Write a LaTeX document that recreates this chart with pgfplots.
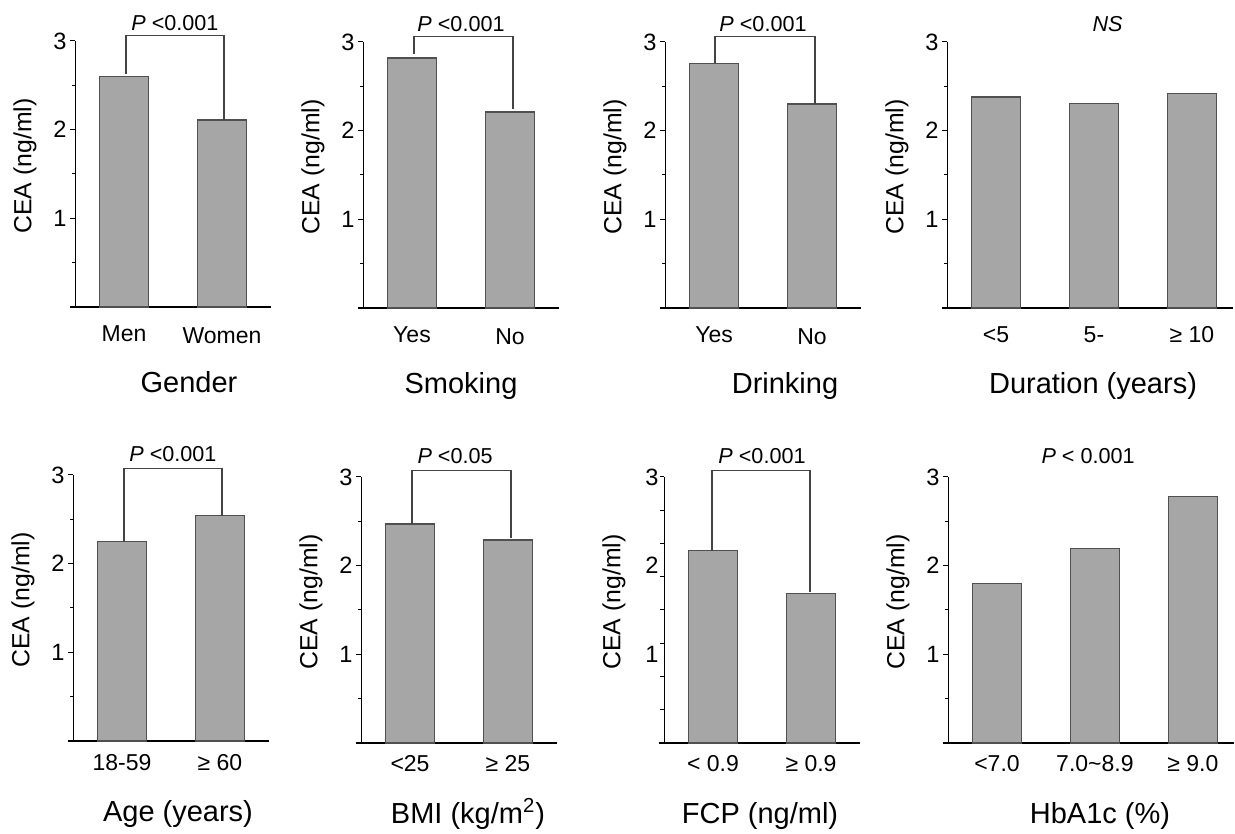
\documentclass[border=0pt]{standalone}
\usepackage{fontspec}
\setmainfont{Liberation Sans}
\usepackage{pgfplots}
\pgfplotsset{compat=1.18}
\definecolor{barfill}{HTML}{A6A6A6}
\definecolor{baredge}{HTML}{505050}
\definecolor{brk}{HTML}{444444}

\pgfplotsset{
  panel/.style={
    scale only axis, width=98pt, height=133pt,
    xmin=-0.5, xmax=1.5, ymin=0, ymax=3,
    axis x line*=bottom, axis y line*=left,
    x axis line style={line width=1.1pt, -, shorten <=-2.5pt},
    y axis line style={line width=0.5pt, -},
    tick align=outside, major tick length=2.5pt, minor tick length=1.5pt,
    every tick/.style={black, line width=0.5pt},
    xtick={0,1}, xtick style={draw=none},
    /pgf/number format/assume math mode=true,
    yticklabel style={font=\fontsize{11.8}{13}\selectfont, inner sep=1.5pt},
    xticklabel style={font=\fontsize{11.5}{13}\selectfont, anchor=base},
    every axis y label/.style={at={(axis description cs:0,0.53)}, xshift=-25pt, rotate=90, anchor=center, font=\fontsize{12.4}{14}\selectfont},
    every axis x label/.style={at={(axis description cs:0.5,0)}, anchor=base, font=\fontsize{14.5}{16}\selectfont},
    ylabel={CEA (ng/ml)},
    clip=false,
    ybar, bar width=0.5,
  },
  stdy/.style={ytick={1,2,3}, minor ytick={0.5,1.5,2.5}},
  three/.style={width=143pt, xmax=2.42, xtick={0,1,2}},
  row1/.style={xticklabel style={yshift=-15pt}, xlabel style={yshift=-43pt}},
  row2/.style={xticklabel style={yshift=-12pt}, xlabel style={yshift=-40pt}},
  bars/.style={fill=barfill, draw=baredge, line width=0.6pt},
}
\tikzset{
  brack/.style={draw=brk, line width=0.55pt},
  ptxt/.style={anchor=base, font=\fontsize{10.8}{12}\selectfont},
}

\begin{document}
\begin{tikzpicture}
\useasboundingbox (0,0) rectangle (617.5pt,417pt);

% ---------- Row 1 ----------
% Gender
\begin{axis}[panel, stdy, row1, at={(37.5pt,263.5pt)}, anchor=south west,
  xticklabels={Men,\raisebox{-1pt}{Women}}, xlabel={Gender}, xlabel style={xshift=8pt}]
\addplot[bars] coordinates {(0,2.60) (1,2.11)};
\draw[brack] (axis cs:0.02,2.63) -- (axis cs:0.02,3.06) -- (axis cs:1.02,3.06) -- (axis cs:1.02,2.11);
\node[ptxt] at (axis cs:0.52,3.12) {\textit{P} <0.001};
\end{axis}

% Smoking
\begin{axis}[panel, stdy, row1, at={(181.5pt,263pt)}, anchor=south west,
  xticklabels={Yes,\raisebox{-1pt}{No}}, xlabel={Smoking}]
\addplot[bars] coordinates {(0,2.82) (1,2.21)};
\draw[brack] (axis cs:0.02,2.87) -- (axis cs:0.02,3.06) -- (axis cs:1.03,3.06) -- (axis cs:1.03,2.24);
\node[ptxt] at (axis cs:0.5,3.12) {\textit{P} <0.001};
\end{axis}

% Drinking
\begin{axis}[panel, stdy, row1, at={(332.5pt,263pt)}, anchor=south west,
  xticklabels={Yes,\raisebox{-1pt}{No}}, xlabel={Drinking}, xlabel style={xshift=11pt}]
\addplot[bars] coordinates {(0,2.76) (1,2.30)};
\draw[brack] (axis cs:0.01,2.76) -- (axis cs:0.01,3.06) -- (axis cs:1.03,3.06) -- (axis cs:1.03,2.30);
\node[ptxt] at (axis cs:0.5,3.12) {\textit{P} <0.001};
\end{axis}

% Duration
\begin{axis}[panel, stdy, three, row1, at={(473.5pt,263pt)}, anchor=south west,
  xticklabels={<5,5-,≥ 10}, xlabel={Duration (years)}, xlabel style={xshift=1.5pt}]
\addplot[bars] coordinates {(0,2.38) (1,2.31) (2,2.42)};
\node[ptxt] at (axis cs:1.14,3.12) {\textit{NS}};
\end{axis}

% ---------- Row 2 ----------
% Age
\begin{axis}[panel, stdy, row2, at={(36.5pt,46.5pt)}, anchor=south west,
  xticklabels={18-59,≥ 60}, xlabel={Age (years)}, xlabel style={xshift=3.5pt}]
\addplot[bars] coordinates {(0,2.25) (1,2.54)};
\draw[brack] (axis cs:0.02,2.25) -- (axis cs:0.02,3.07) -- (axis cs:1.02,3.07) -- (axis cs:1.02,2.54);
\node[ptxt] at (axis cs:0.52,3.15) {\textit{P} <0.001};
\end{axis}

% BMI
\begin{axis}[panel, stdy, row2, at={(180.5pt,45.5pt)}, anchor=south west,
  xticklabels={<25,≥ 25}, xlabel={BMI (kg/m\textsuperscript{2})}, xlabel style={xshift=4.5pt}]
\addplot[bars] coordinates {(0,2.47) (1,2.29)};
\draw[brack] (axis cs:0.02,2.47) -- (axis cs:0.02,3.07) -- (axis cs:1.03,3.07) -- (axis cs:1.03,2.31);
\node[ptxt] at (axis cs:0.46,3.15) {\textit{P} <0.05};
\end{axis}

% FCP
\begin{axis}[panel, row2, at={(332pt,45.5pt)}, anchor=south west,
  ytick={1,2,3}, major tick length=0pt,
  minor ytick={0.375,0.75,1.125,1.5,1.875,2.25,2.625,3}, minor tick length=2pt,
  yticklabel style={xshift=-1pt},
  xticklabel style={yshift=-2.5pt},
  xticklabels={< 0.9,≥ 0.9}, xlabel={FCP (ng/ml)}, xlabel style={xshift=-1pt}]
\addplot[bars] coordinates {(0,2.17) (1,1.69)};
\draw[brack] (axis cs:-0.01,2.17) -- (axis cs:-0.01,3.07) -- (axis cs:0.99,3.07) -- (axis cs:0.99,1.70);
\node[ptxt] at (axis cs:0.5,3.15) {\textit{P} <0.001};
\end{axis}

% HbA1c
\begin{axis}[panel, stdy, three, row2, at={(474pt,45.5pt)}, anchor=south west,
  xticklabels={<7.0,7.0\textasciitilde 8.9,≥ 9.0}, xlabel={HbA1c (\%)}, xlabel style={xshift=4.5pt}]
\addplot[bars] coordinates {(0,1.80) (1,2.19) (2,2.78)};
\node[ptxt] at (axis cs:0.93,3.15) {\textit{P} < 0.001};
\end{axis}
\end{tikzpicture}
\end{document}
